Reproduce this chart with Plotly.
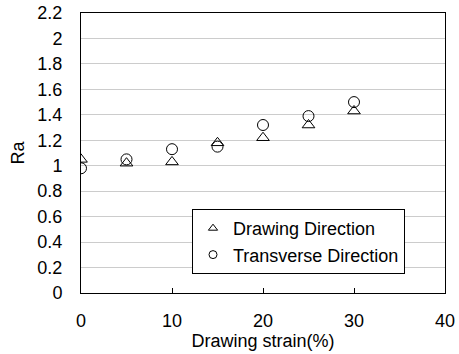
import plotly.graph_objects as go

strain = [0, 5, 10, 15, 20, 25, 30]
ra_drawing = [1.05, 1.02, 1.03, 1.18, 1.22, 1.32, 1.43]
ra_transverse = [0.98, 1.05, 1.13, 1.15, 1.32, 1.39, 1.50]
x_ticks = [0, 10, 20, 30, 40]
y_ticks = [0, 0.2, 0.4, 0.6, 0.8, 1, 1.2, 1.4, 1.6, 1.8, 2, 2.2]

fig = go.Figure()
fig.add_trace(go.Scatter(x=strain, y=ra_drawing, mode="markers", name="Drawing Direction",
                         legendgroup="d", showlegend=False,
                         marker=dict(symbol="triangle-up-open", size=11, color="black", line=dict(width=1))))
fig.add_trace(go.Scatter(x=strain, y=ra_transverse, mode="markers", name="Transverse Direction",
                         legendgroup="t", showlegend=False,
                         marker=dict(symbol="circle-open", size=11, color="black", line=dict(width=1))))
# legend entries with smaller symbols, as in the reference
fig.add_trace(go.Scatter(x=[None], y=[None], mode="markers", name="Drawing Direction",
                         legendgroup="d",
                         marker=dict(symbol="triangle-up-open", size=8, color="black", line=dict(width=1))))
fig.add_trace(go.Scatter(x=[None], y=[None], mode="markers", name="Transverse Direction",
                         legendgroup="t",
                         marker=dict(symbol="circle-open", size=8, color="black", line=dict(width=1))))

fig.update_layout(
    width=459, height=354,
    margin=dict(l=81, r=14, t=13, b=61, autoexpand=False),
    paper_bgcolor="white", plot_bgcolor="white",
    font=dict(family="Arial, Liberation Sans", size=18, color="black"),
    showlegend=True,
    legend=dict(x=(192 - 81) / 364, y=0.30, xanchor="left", yanchor="top",
                bordercolor="black", borderwidth=1, bgcolor="white",
                font=dict(size=18), tracegroupgap=0, itemwidth=30),
    xaxis=dict(range=[0, 40], tickvals=x_ticks, ticks="inside", ticklen=5, tickcolor="black",
               showgrid=False, zeroline=False, showline=True, linecolor="black", linewidth=1,
               mirror=True, ticklabelstandoff=11, automargin=False,
               title=dict(text="Drawing strain(%)", standoff=0, font=dict(size=18))),
    yaxis=dict(range=[0, 2.2], tickvals=y_ticks, ticktext=[f"{v:g}" for v in y_ticks],
               ticks="", showgrid=True, gridcolor="#cccccc", gridwidth=1, zeroline=False,
               showline=True, linecolor="black", linewidth=1, mirror=True, ticklabelstandoff=14,
               automargin=False,
               title=dict(text="Ra", standoff=8, font=dict(size=18))),
)

fig.write_html("out.html", config={"displayModeBar": False},
               post_script="document.body.style.margin='0';")
